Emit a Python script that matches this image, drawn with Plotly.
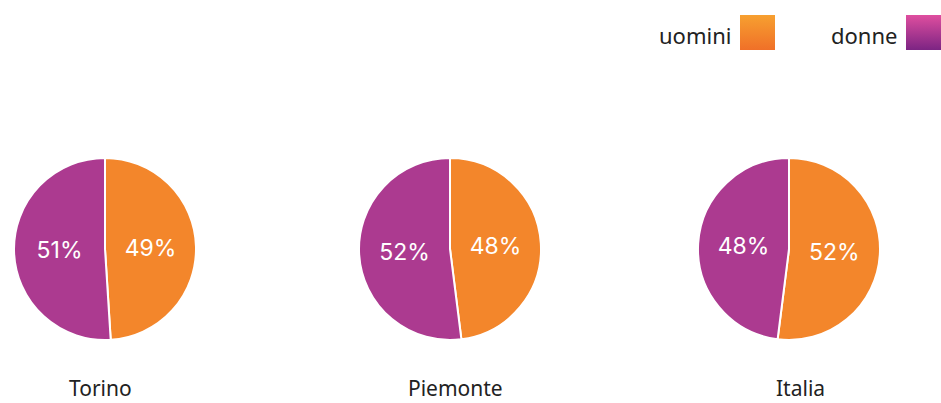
import plotly.graph_objects as go

# Data
places = ['Torino', 'Piemonte', 'Italia']
genders = ['uomini', 'donne']
uomini_pct = [49, 48, 52]
donne_pct = [51, 52, 48]

# Colours (mid tones of the original gradients)
ORANGE = '#F3862B'
PURPLE = '#AC3A90'
ORANGE_SCALE = [[0, '#F07028'], [1, '#F7A030']]
PURPLE_SCALE = [[0, '#7C2483'], [1, '#DF4E9F']]

W, H = 941, 403
centers_x = [105, 450, 789]
label_x = [100, 455, 800]
center_y = 249
radius = 91

fig = go.Figure()

for i, place in enumerate(places):
    cx = centers_x[i]
    fig.add_trace(go.Pie(
        labels=genders,
        values=[uomini_pct[i], donne_pct[i]],
        sort=False,
        direction='clockwise',
        rotation=0,
        marker=dict(colors=[ORANGE, PURPLE], line=dict(color='white', width=2)),
        texttemplate='%{value}%',
        textposition='inside',
        insidetextorientation='horizontal',
        textfont=dict(family='Inter, sans-serif', size=23, color='white'),
        domain=dict(x=[(cx - radius) / W, (cx + radius) / W],
                    y=[(H - center_y - radius) / H, (H - center_y + radius) / H]),
        showlegend=False,
        hoverinfo='label+percent',
        name=place,
    ))
    fig.add_annotation(
        x=label_x[i] / W, y=0, xref='paper', yref='paper',
        text=place, showarrow=False, xanchor='center', yanchor='bottom',
        borderpad=0,
        font=dict(family='Noto Sans, sans-serif', size=21, color='#222222'),
    )

# Custom legend: text on the left of a gradient swatch
legend_items = [('uomini', 740, ORANGE_SCALE), ('donne', 906, PURPLE_SCALE)]
for name, x0, scale in legend_items:
    fig.add_trace(go.Scatter(
        x=[x0, x0 + 35, x0 + 35, x0, x0],
        y=[15, 15, 50, 50, 15],
        mode='lines', fill='toself', line=dict(width=0),
        fillgradient=dict(type='vertical', colorscale=scale),
        xaxis='x', yaxis='y', showlegend=False, hoverinfo='skip',
    ))
    fig.add_annotation(
        x=(x0 - 7) / W, y=(H - 35) / H, xref='paper', yref='paper',
        text=name, showarrow=False, xanchor='right', yanchor='middle',
        font=dict(family='Noto Sans, sans-serif', size=22, color='#222222'),
    )

fig.update_layout(
    width=W, height=H,
    margin=dict(l=0, r=0, t=0, b=0),
    paper_bgcolor='white', plot_bgcolor='rgba(0,0,0,0)',
    xaxis=dict(range=[0, W], visible=False, fixedrange=True, domain=[0, 1]),
    yaxis=dict(range=[H, 0], visible=False, fixedrange=True, domain=[0, 1]),
    showlegend=False,
)

fig.write_html('out.html', config={'displayModeBar': False},
               post_script="document.body.style.margin='0';")
